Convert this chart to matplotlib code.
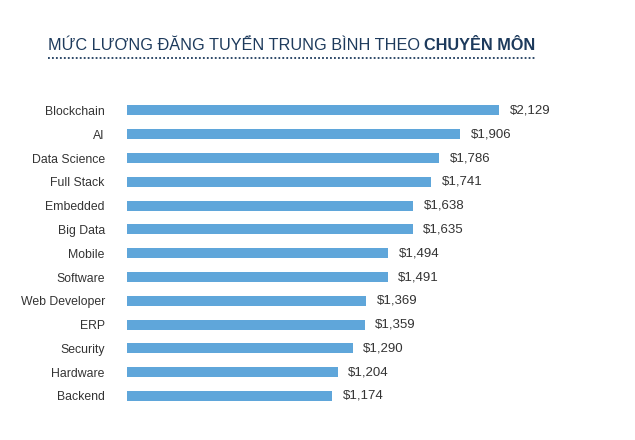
import matplotlib
matplotlib.use("Agg")
import matplotlib.pyplot as plt

categories = ["Blockchain", "AI", "Data Science", "Full Stack", "Embedded", "Big Data",
              "Mobile", "Software", "Web Developer", "ERP", "Security", "Hardware", "Backend"]
salaries = [2129, 1906, 1786, 1741, 1638, 1635, 1494, 1491, 1369, 1359, 1290, 1204, 1174]

plt.rcParams['font.family'] = ['Liberation Sans', 'DejaVu Sans']

fig = plt.figure(figsize=(6.35, 4.4), dpi=100)
ax = fig.add_axes([0.2, 0.073, 0.75, 0.703])

ypos = list(range(len(categories)))
ax.barh(ypos, salaries, height=0.42, color="#5fa6da")
for y, v in zip(ypos, salaries):
    ax.text(v + 60, y, "${:,}".format(v), va="center", ha="left", fontsize=9.5, color="#333333")

ax.set_yticks(ypos)
ax.set_yticklabels(categories, fontsize=8.8, color="#333333")
ax.set_ylim(len(categories) - 0.5, -0.5)
ax.set_xlim(0, 2724)
ax.set_xticks([])
ax.tick_params(axis="y", length=0, pad=16)
for s in ax.spines.values():
    s.set_visible(False)

title_color = "#1d3a5c"
t = fig.text(48 / 635, 1 - 45 / 440, "MỨC LƯƠNG ĐĂNG TUYỂN TRUNG BÌNH THEO ", fontsize=11.7,
             color=title_color, va="center", ha="left")
fig.canvas.draw()
bb = t.get_window_extent()
fig.text(bb.x1 / 635, 1 - 45 / 440, "CHUYÊN MÔN", fontsize=11.7, fontweight="bold",
         color=title_color, va="center", ha="left")
fig.add_artist(plt.Line2D([48 / 635, 535 / 635], [1 - 58 / 440, 1 - 58 / 440],
                          transform=fig.transFigure, color=title_color, lw=1.3,
                          linestyle=(0, (1, 1.2))))

fig.savefig("out.png", dpi=100)
